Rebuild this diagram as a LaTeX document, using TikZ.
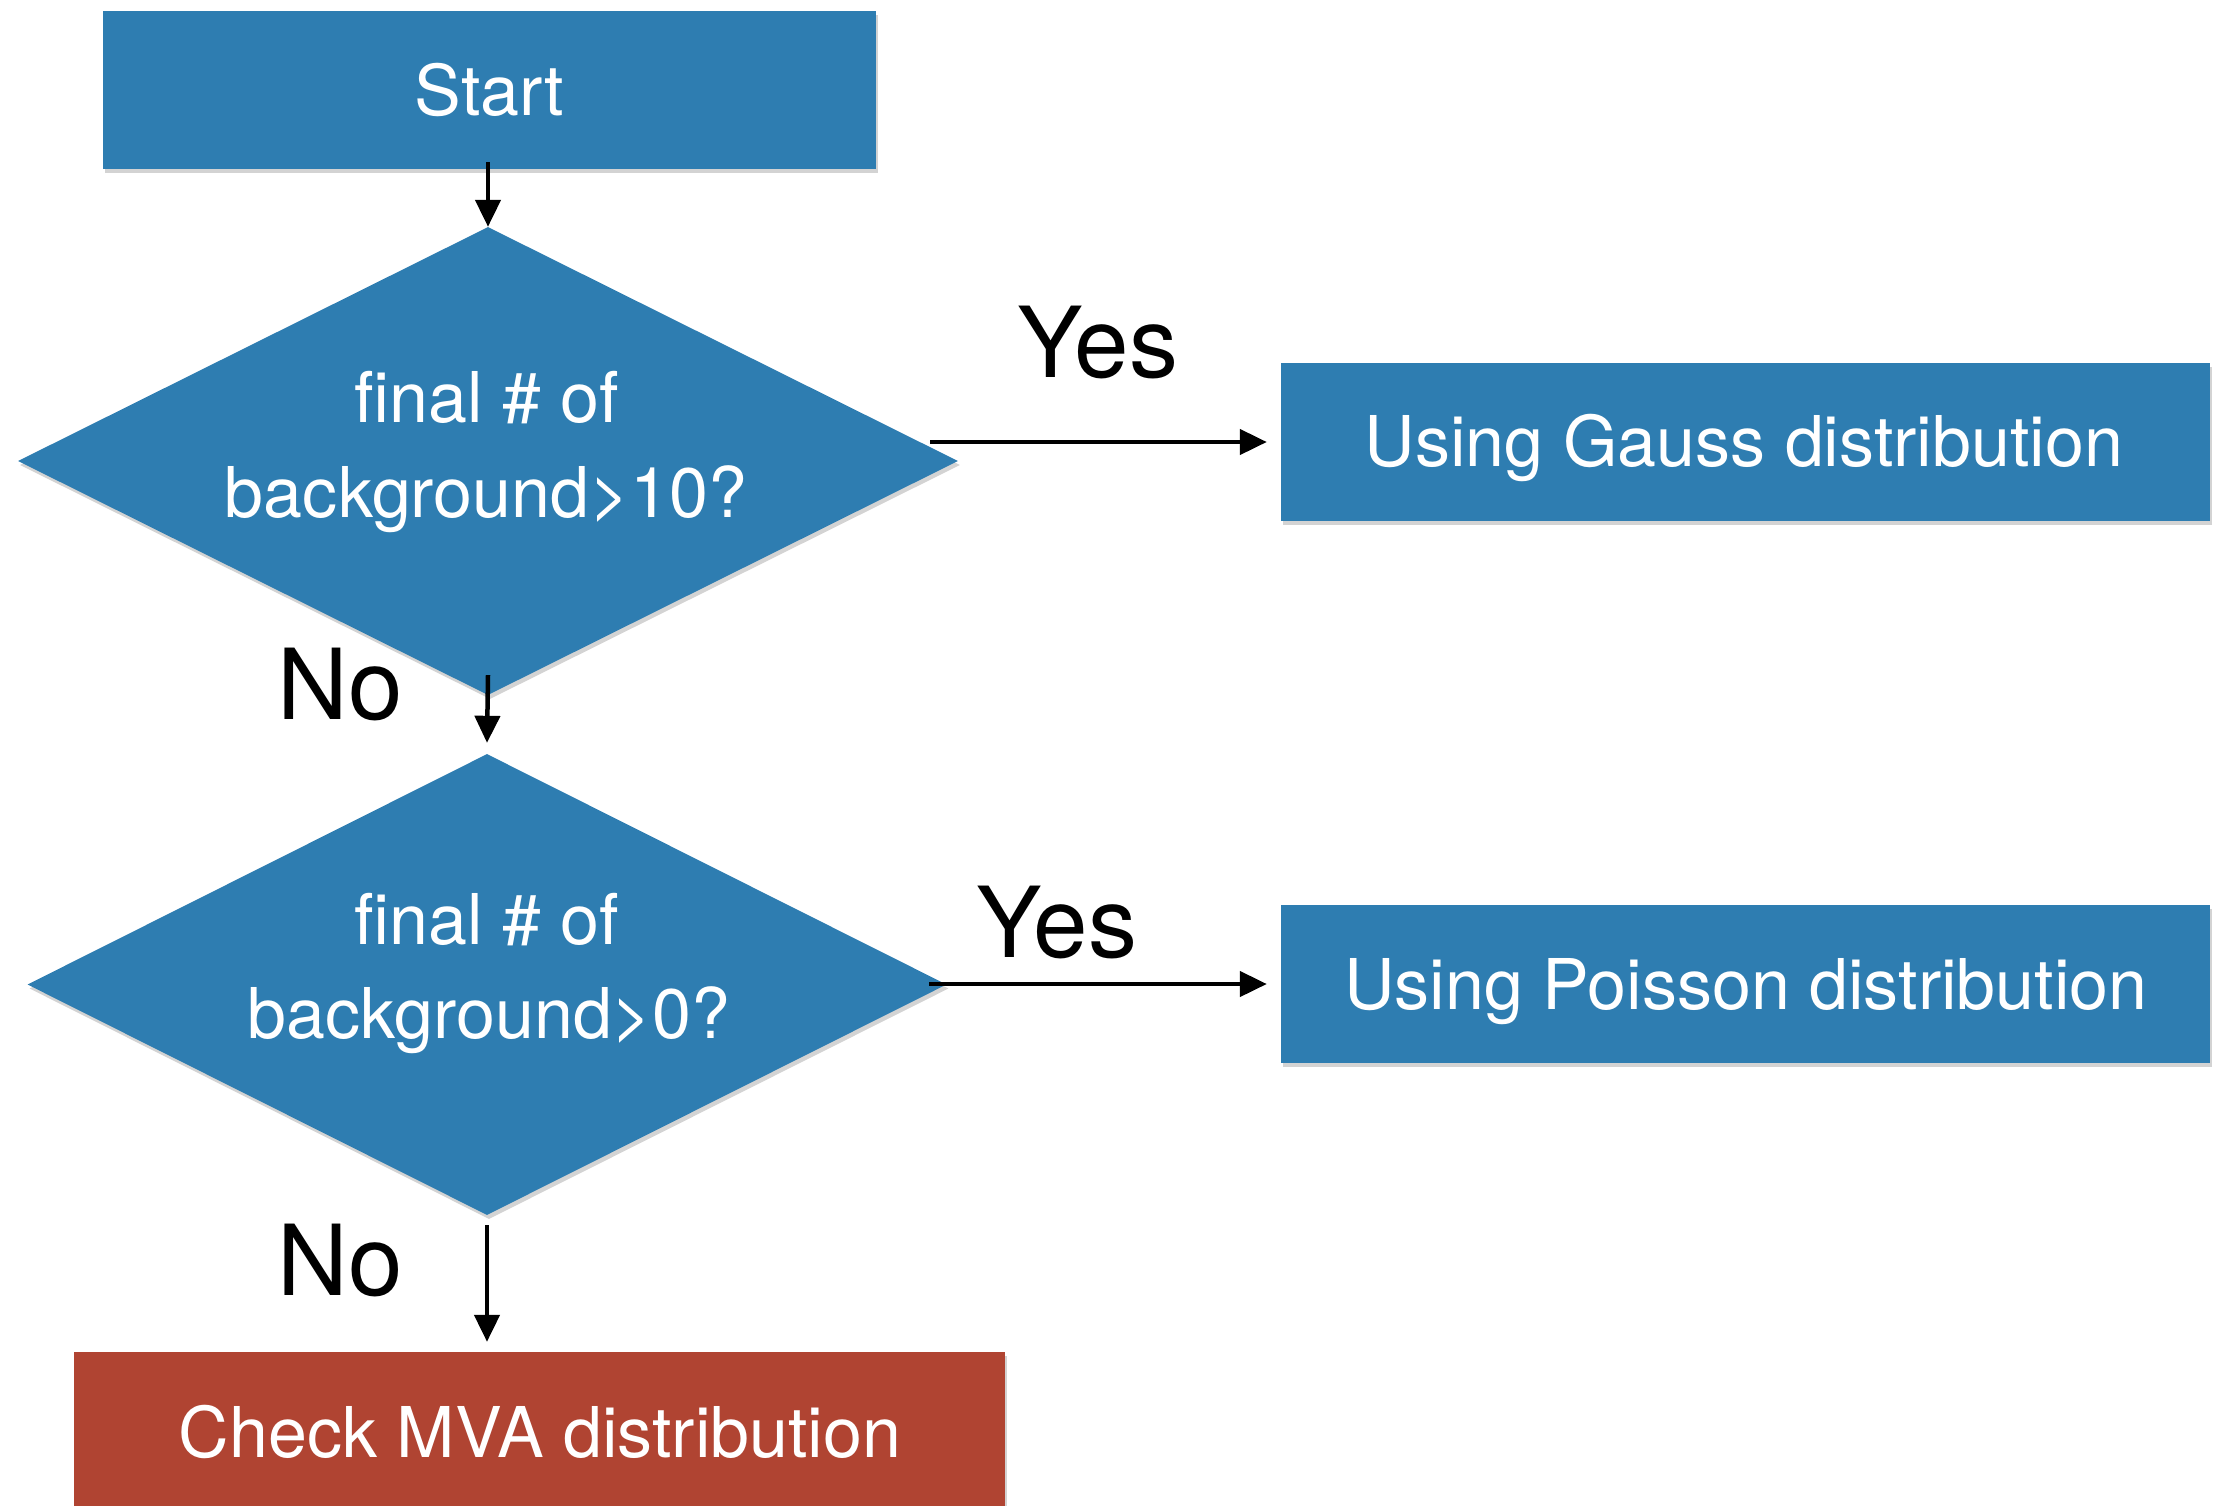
\documentclass[tikz,border=0pt]{standalone}
\usepackage{fontspec}
\setmainfont{TeX Gyre Heros}
\usetikzlibrary{shapes.geometric,arrows.meta,shadows}
\definecolor{flowblue}{RGB}{46,125,177}
\definecolor{flowred}{RGB}{176,68,50}
\tikzset{
  boxshadow/.style={drop shadow={opacity=0.35,shadow xshift=2pt,shadow yshift=-4pt}},
  bluebox/.style={rectangle,fill=flowblue,inner sep=0pt,boxshadow},
  redbox/.style={rectangle,fill=flowred,inner sep=0pt,boxshadow},
  decision/.style={diamond,fill=flowblue,inner sep=0pt,boxshadow},
  boxtext/.style={text=white,anchor=base,inner sep=0pt,font=\fontsize{70}{80}\selectfont},
  answer/.style={text=black,anchor=center,inner sep=0pt,font=\fontsize{98}{110}\selectfont},
  flowarrow/.style={draw=black,line width=4.5pt,-{Triangle[length=27pt,width=25pt]}}
}
\begin{document}
\begin{tikzpicture}[x=1pt,y=-1pt]
\useasboundingbox (0,0) rectangle (2224,1505);
% boxes
\node[bluebox,minimum width=773pt,minimum height=158pt] (start) at (489.5,90) {};
\node[decision,minimum width=940pt,minimum height=468pt] (d1) at (488,461) {};
\node[bluebox,minimum width=929pt,minimum height=158pt] (gauss) at (1745.5,442) {};
\node[decision,minimum width=919pt,minimum height=461pt] (d2) at (487,984.5) {};
\node[bluebox,minimum width=929pt,minimum height=158pt] (poisson) at (1745.5,984) {};
\node[redbox,minimum width=931pt,minimum height=180pt] (mva) at (539.5,1442) {};
% texts
\node[boxtext] (tstart) at (489.5,115) {Start};
\node[boxtext] (td1a) at (487,422) {final \# of};
\node[boxtext] (td1b) at (486,517) {background>10?};
\node[boxtext] (tgauss) at (1744,466) {Using Gauss distribution};
\node[boxtext] (td2a) at (487,944) {final \# of};
\node[boxtext] (td2b) at (489,1038) {background>0?};
\node[boxtext] (tpoisson) at (1746,1009) {Using Poisson distribution};
\node[boxtext] (tmva) at (540,1457) {Check MVA distribution};
% answers
\node[answer] (yes1) at (1098,343) {Yes};
\node[answer] (yes2) at (1057,922) {Yes};
\node[answer] (no1) at (340,685) {No};
\node[answer] (no2) at (340,1260) {No};
% connectors
\draw[flowarrow] ([yshift=7pt]d1.north |- start.south) -- (d1.north);
\draw[flowarrow] ([yshift=20pt]d1.south) -- ([yshift=11pt]d2.north);
\draw[flowarrow] ([yshift=-10pt]d2.south) -- ([yshift=10pt]d2.south |- mva.north);
\coordinate (y1s) at (930,442);
\coordinate (y2s) at (929,984);
\draw[flowarrow] (y1s) -- ([xshift=-14pt]y1s -| gauss.west);
\draw[flowarrow] (y2s) -- ([xshift=-14pt]y2s -| poisson.west);
\end{tikzpicture}
\end{document}
